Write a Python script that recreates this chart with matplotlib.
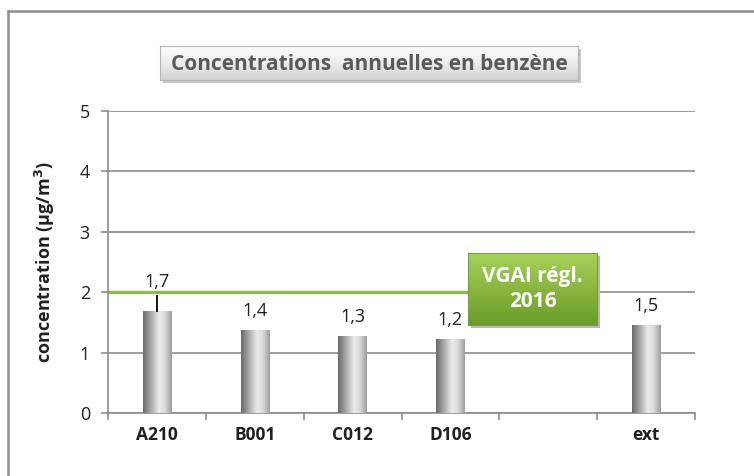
import matplotlib
matplotlib.use("Agg")
import matplotlib.pyplot as plt
import numpy as np
from matplotlib.patches import Rectangle
from matplotlib.lines import Line2D

categories = ["A210", "B001", "C012", "D106", "", "ext"]
values = [1.69, 1.37, 1.28, 1.23, np.nan, 1.46]
value_labels = ["1,7", "1,4", "1,3", "1,2", "", "1,5"]
err_up = [0.25, 0, 0, 0, 0, 0]
vgai = 2.0
y_ticks = [0, 1, 2, 3, 4, 5]
title = "Concentrations  annuelles en benzène"
ylabel = "concentration (µg/m$\\mathbf{^3}$)"
box_text = "VGAI régl.\n2016"

plt.rcParams['font.family'] = ['Open Sans', 'DejaVu Sans']

W, H = 754, 476
fig = plt.figure(figsize=(W / 100, H / 100), dpi=100)

def fx(px):
    return px / W

def fy(py):
    return 1 - py / H

# outer border
fig.add_artist(Line2D([fx(7.5), fx(7.5)], [fy(10.5), 0], color="#8c8c8c", lw=1.8))
fig.add_artist(Line2D([fx(7.5), 1], [fy(10.5), fy(10.5)], color="#8c8c8c", lw=1.8))

ax = fig.add_axes([fx(108), fy(413), fx(695) - fx(108), fy(111) - fy(413)])
ax.set_zorder(1)
x = np.arange(len(categories))
ax.set_yticks(y_ticks)
ax.set_yticklabels([str(t) for t in y_ticks], fontsize=13, color="#202020")
ax.yaxis.grid(True, color="#8c8c8c", lw=1.2)
ax.set_axisbelow(True)
for s in ["top", "right"]:
    ax.spines[s].set_visible(False)
ax.spines["left"].set_color("#8c8c8c")
ax.spines["bottom"].set_color("#8c8c8c")
ax.spines["left"].set_linewidth(1.2)
ax.spines["bottom"].set_linewidth(1.2)
ax.tick_params(axis="y", length=5, color="#8c8c8c", width=1.2, pad=8)
ax.set_xticks(np.arange(len(categories) + 1) - 0.5)
ax.set_xticklabels([])
ax.tick_params(axis="x", length=5, color="#8c8c8c", width=1.2)
for xi, c in zip(x, categories):
    ax.text(xi, -0.22, c, ha="center", va="top", fontsize=12.5, fontweight="bold", color="#202020")

ax.set_ylabel(ylabel, fontsize=13, fontweight="bold", color="#202020", labelpad=16)

# green reference line
ax.plot([-0.5, 3.2], [vgai, vgai], color="#8dba4e", lw=2.4, zorder=2, solid_capstyle="butt")

# gradient bars
bw = 0.29
grad_pos = np.array([0, 0.15, 0.55, 0.75, 1.0])
grad_val = np.array([0.42, 0.55, 0.92, 0.86, 0.62])
g = np.interp(np.linspace(0, 1, 64), grad_pos, grad_val)
img = np.stack([g, g, g], axis=-1)[None, :, :].repeat(2, axis=0)
for xi, v in zip(x, values):
    if np.isnan(v):
        continue
    rect = Rectangle((xi - bw / 2, 0), bw, v, transform=ax.transData, facecolor="none",
                     edgecolor="none")
    ax.add_patch(rect)
    im = ax.imshow(img, extent=(xi - bw / 2, xi + bw / 2, 0, v), aspect="auto", zorder=3,
                   interpolation="bilinear")
    im.set_clip_path(rect)

ax.set_xlim(-0.5, len(categories) - 0.5)
ax.set_ylim(0, 5)

# error bar and labels
for xi, v, e, lab in zip(x, values, err_up, value_labels):
    if np.isnan(v):
        continue
    if e > 0:
        ax.plot([xi, xi], [v, v + e], color="#000000", lw=1.3, zorder=4)
        base = v + e + 0.15
    else:
        base = v + 0.23
    ax.text(xi, base, lab, ha="center", va="baseline", fontsize=13, color="#202020", zorder=5)

# title box with gradient
tb_x0, tb_y0, tb_x1, tb_y1 = 160, 46, 578, 80
shadow = Rectangle((fx(tb_x0 + 3), fy(tb_y1 + 3)), fx(tb_x1 - tb_x0), fy(tb_y0) - fy(tb_y1),
                   transform=fig.transFigure, facecolor="#c8c8c8", edgecolor="none", zorder=2)
fig.add_artist(shadow)
tax = fig.add_axes([fx(tb_x0), fy(tb_y1), fx(tb_x1 - tb_x0), fy(tb_y0) - fy(tb_y1)])
tax.set_zorder(5)
tg = np.interp(np.linspace(0, 1, 50), [0, 0.5, 1], [0.99, 0.93, 0.82])
tax.imshow(np.stack([tg, tg, tg], axis=-1)[:, None, :].repeat(2, axis=1), extent=(0, 1, 0, 1),
           aspect="auto", interpolation="bilinear")
tax.set_xlim(0, 1)
tax.set_ylim(0, 1)
tax.set_xticks([])
tax.set_yticks([])
for s in tax.spines.values():
    s.set_color("#b4b4b4")
tax.text(0.5, 0.47, title, ha="center", va="center", fontsize=15, fontweight="bold",
         color="#5a5a5a")

# VGAI box
bx0, by0, bx1, by1 = 468, 253, 597, 325
shadow2 = Rectangle((fx(bx0 + 3), fy(by1 + 3)), fx(bx1 - bx0), fy(by0) - fy(by1),
                    transform=fig.transFigure, facecolor="#b8b8b8", edgecolor="none", zorder=2)
fig.add_artist(shadow2)
bax = fig.add_axes([fx(bx0), fy(by1), fx(bx1 - bx0), fy(by0) - fy(by1)])
bax.set_zorder(5)
r = np.interp(np.linspace(0, 1, 50), [0, 1], [0.65, 0.42])
gg = np.interp(np.linspace(0, 1, 50), [0, 1], [0.82, 0.61])
b = np.interp(np.linspace(0, 1, 50), [0, 1], [0.35, 0.16])
bax.imshow(np.stack([r, gg, b], axis=-1)[:, None, :].repeat(2, axis=1), extent=(0, 1, 0, 1),
           aspect="auto", interpolation="bilinear")
bax.set_xlim(0, 1)
bax.set_ylim(0, 1)
bax.set_xticks([])
bax.set_yticks([])
for s in bax.spines.values():
    s.set_color("#7a9e3e")
bax.text(0.5, 0.5, box_text, ha="center", va="center", fontsize=15, fontweight="bold",
         color="white", linespacing=1.3)

fig.savefig("out.png", dpi=100)
